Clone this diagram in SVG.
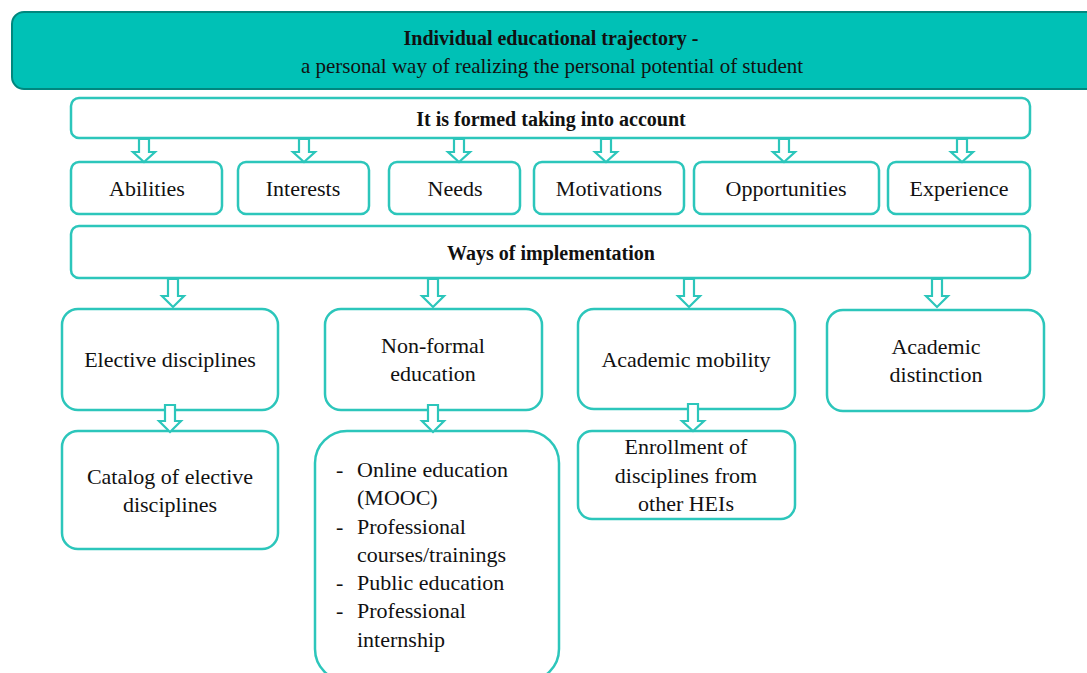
<svg xmlns="http://www.w3.org/2000/svg" width="1087" height="673" viewBox="0 0 1087 673" font-family="Liberation Serif, DejaVu Serif, serif">
<style>
.box{fill:#fff;stroke:#2cc6bb;stroke-width:2.5}
.arr{fill:#fff;stroke:#2cc6bb;stroke-width:2.2;stroke-linejoin:miter}
text{font-family:"Liberation Serif",serif}
.t{font-size:22px;fill:#111;text-anchor:middle}
.b{font-weight:bold;font-size:20px}
.l{text-anchor:start}
</style>
<rect width="1087" height="673" fill="#fff"/>
<g id="title">
<rect x="12" y="12" width="1090" height="77" rx="12" fill="#00c1b6" stroke="#00877e" stroke-width="2"/>
<text class="t b" x="551" y="45">Individual educational trajectory -</text>
<text class="t" x="552" y="73" style="font-size:21px">a personal way of realizing the personal potential of student</text>
</g>
<g id="formed">
<rect class="box" x="71" y="98" width="959" height="40" rx="8"/>
<text class="t b" x="551" y="126">It is formed taking into account</text>
</g>
<g id="abilities"><rect class="box" x="71" y="162" width="151" height="52" rx="8"/><text class="t" x="147" y="196">Abilities</text></g>
<g id="interests"><rect class="box" x="238" y="162" width="131" height="52" rx="8"/><text class="t" x="303" y="196">Interests</text></g>
<g id="needs"><rect class="box" x="389" y="162" width="131" height="52" rx="8"/><text class="t" x="455" y="196">Needs</text></g>
<g id="motivations"><rect class="box" x="534" y="162" width="150" height="52" rx="8"/><text class="t" x="609" y="196">Motivations</text></g>
<g id="opportunities"><rect class="box" x="694" y="162" width="185" height="52" rx="8"/><text class="t" x="786" y="196">Opportunities</text></g>
<g id="experience"><rect class="box" x="888" y="162" width="142" height="52" rx="8"/><text class="t" x="959" y="196">Experience</text></g>
<g id="ways">
<rect class="box" x="71" y="226" width="959" height="52" rx="8"/>
<text class="t b" x="551" y="260">Ways of implementation</text>
</g>
<g id="elective"><rect class="box" x="62" y="309" width="216" height="101" rx="16"/><text class="t" x="170" y="367">Elective disciplines</text></g>
<g id="nonformal"><rect class="box" x="325" y="309" width="217" height="101" rx="16"/><text class="t" x="433" y="353">Non-formal</text><text class="t" x="433" y="381">education</text></g>
<g id="mobility"><rect class="box" x="578" y="309" width="217" height="100" rx="16"/><text class="t" x="686" y="367">Academic mobility</text></g>
<g id="distinction"><rect class="box" x="827" y="310" width="217" height="101" rx="16"/><text class="t" x="936" y="354">Academic</text><text class="t" x="936" y="382">distinction</text></g>
<g id="catalog"><rect class="box" x="62" y="431" width="216" height="118" rx="16"/><text class="t" x="170" y="484">Catalog of elective</text><text class="t" x="170" y="512">disciplines</text></g>
<g id="list"><rect class="box" x="315" y="431" width="244" height="250" rx="32"/>
<text class="t l" x="336" y="477">-</text><text class="t l" x="357" y="477">Online education</text>
<text class="t l" x="357" y="505">(MOOC)</text>
<text class="t l" x="336" y="534">-</text><text class="t l" x="357" y="534">Professional</text>
<text class="t l" x="357" y="562">courses/trainings</text>
<text class="t l" x="336" y="590">-</text><text class="t l" x="357" y="590">Public education</text>
<text class="t l" x="336" y="618">-</text><text class="t l" x="357" y="618">Professional</text>
<text class="t l" x="357" y="647">internship</text>
</g>
<g id="enrollment"><rect class="box" x="578" y="431" width="217" height="88" rx="14"/><text class="t" x="686" y="454">Enrollment of</text><text class="t" x="686" y="483">disciplines from</text><text class="t" x="686" y="511">other HEIs</text></g>
<g id="connectors">
<path class="arr" d="M139 139V152H133L144 162L155 152H149V139Z"/>
<path class="arr" d="M299 139V152H293L304 162L315 152H309V139Z"/>
<path class="arr" d="M454 139V152H448L459 162L470 152H464V139Z"/>
<path class="arr" d="M601 139V152H595L606 162L617 152H611V139Z"/>
<path class="arr" d="M779 139V152H773L784 162L795 152H789V139Z"/>
<path class="arr" d="M957 139V152H951L962 162L973 152H967V139Z"/>
<path class="arr" d="M168 279V296H162L173 307L184 296H178V279Z"/>
<path class="arr" d="M428 279V296H422L433 307L444 296H438V279Z"/>
<path class="arr" d="M684 279V296H678L689 307L700 296H694V279Z"/>
<path class="arr" d="M932 279V296H926L937 307L948 296H942V279Z"/>
<path class="arr" d="M165 405V421H159L170 432L181 421H175V405Z"/>
<path class="arr" d="M428 405V421H422L433 432L444 421H438V405Z"/>
<path class="arr" d="M688 404V421H682L693 431L704 421H698V404Z"/>
</g>
</svg>
